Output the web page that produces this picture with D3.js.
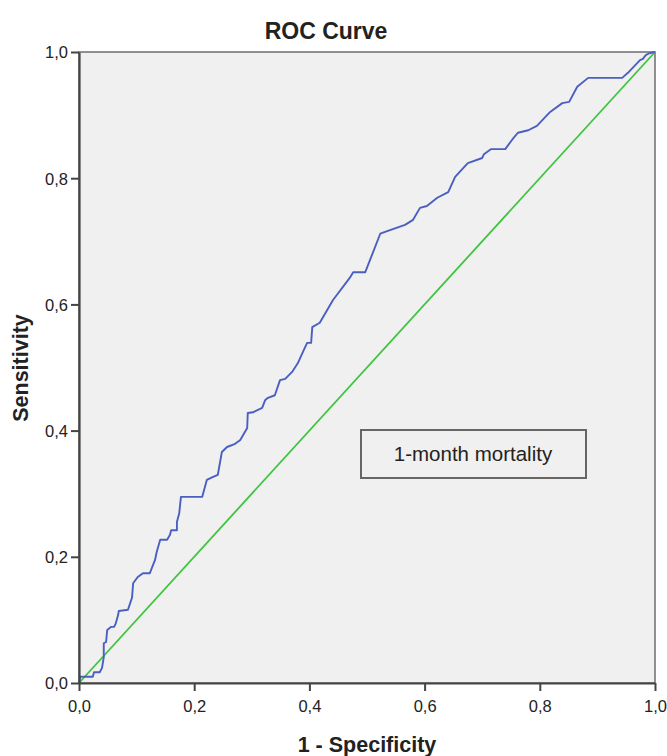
<!DOCTYPE html>
<html><head><meta charset="utf-8">
<script src="https://cdn.jsdelivr.net/npm/d3@7"></script>
<style>
html,body{margin:0;padding:0;background:#fff;}
text{font-family:"Liberation Sans",Arial,sans-serif;fill:#222;}
</style></head>
<body>
<svg id="c" width="667" height="756"></svg>
<script>
const fpr = [0,0.002,0.024,0.026,0.036,0.040,0.043,0.043,0.047,0.049,0.056,0.061,0.064,0.068,0.069,0.085,0.089,0.092,0.094,0.102,0.111,0.123,0.132,0.135,0.141,0.153,0.158,0.160,0.170,0.170,0.174,0.177,0.214,0.222,0.231,0.241,0.248,0.257,0.271,0.280,0.292,0.293,0.302,0.318,0.323,0.328,0.340,0.349,0.358,0.370,0.380,0.389,0.396,0.403,0.405,0.418,0.441,0.470,0.476,0.497,0.523,0.535,0.566,0.580,0.592,0.604,0.622,0.641,0.653,0.675,0.700,0.703,0.715,0.740,0.752,0.762,0.780,0.795,0.818,0.839,0.851,0.865,0.884,0.943,0.953,0.974,0.979,0.984,0.990,1];
const tpr = [0,0.010,0.010,0.017,0.017,0.024,0.041,0.063,0.065,0.084,0.089,0.089,0.095,0.108,0.114,0.116,0.127,0.135,0.158,0.168,0.174,0.174,0.195,0.208,0.227,0.227,0.235,0.242,0.242,0.255,0.269,0.295,0.295,0.322,0.326,0.330,0.366,0.374,0.379,0.385,0.404,0.428,0.429,0.436,0.448,0.452,0.456,0.480,0.482,0.493,0.507,0.525,0.539,0.539,0.564,0.571,0.607,0.642,0.651,0.651,0.712,0.716,0.726,0.734,0.753,0.756,0.769,0.778,0.802,0.824,0.832,0.838,0.846,0.846,0.861,0.872,0.876,0.883,0.905,0.919,0.921,0.945,0.959,0.959,0.967,0.987,0.989,0.995,0.998,1];
const refX = [0,1];
const refY = [0,1];
const ticks = [0,0.2,0.4,0.6,0.8,1.0];
const title = "ROC Curve";
const xTitle = "1 - Specificity";
const yTitle = "Sensitivity";
const legendLabel = "1-month mortality";

const svg = d3.select("#c");
const L=79,R=655,T=52,B=683;
const x = d3.scaleLinear().domain([0,1]).range([L,R]);
const y = d3.scaleLinear().domain([0,1]).range([B,T]);
const fmt = d => d3.format(".1f")(d).replace(".",",");

svg.append("rect").attr("x",L).attr("y",T).attr("width",R-L).attr("height",B-T)
  .attr("fill","#f0f0f0").attr("stroke","#6e6e6e").attr("stroke-width",1.5);

const line = d3.line().x(d=>x(d[0])).y(d=>y(d[1]));
svg.append("path").datum(refX.map((v,i)=>[v,refY[i]])).attr("d",line)
  .attr("fill","none").attr("stroke","#3ec43e").attr("stroke-width",1.8);
svg.append("path").datum(fpr.map((v,i)=>[v,tpr[i]])).attr("d",line)
  .attr("fill","none").attr("stroke","#4a5fc0").attr("stroke-width",1.9).attr("stroke-linejoin","round");

const xa = svg.append("g").attr("transform",`translate(0,${B})`)
  .call(d3.axisBottom(x).tickValues(ticks).tickFormat(fmt).tickSize(8).tickPadding(3).tickSizeOuter(0));
const ya = svg.append("g").attr("transform",`translate(${L},0)`)
  .call(d3.axisLeft(y).tickValues(ticks).tickFormat(fmt).tickSize(8).tickPadding(3).tickSizeOuter(0));
[xa,ya].forEach(g=>{
  g.select(".domain").attr("stroke","#444").attr("stroke-width",2.2);
  g.selectAll(".tick line").attr("stroke","#444").attr("stroke-width",2);
  g.selectAll(".tick text").attr("font-size",16.5).attr("font-family","Liberation Sans, Arial, sans-serif").attr("fill","#333");
});
xa.selectAll(".tick text").attr("y",29).attr("dy",0);
ya.selectAll(".tick text").attr("dy","0.36em");

svg.append("text").attr("x",326).attr("y",39).attr("text-anchor","middle")
  .attr("font-size",23).attr("font-weight","bold").text(title);
svg.append("text").attr("x",367).attr("y",752).attr("text-anchor","middle")
  .attr("font-size",21.5).attr("font-weight","bold").text(xTitle);
svg.append("text").attr("transform","translate(28,368) rotate(-90)").attr("text-anchor","middle")
  .attr("font-size",21.5).attr("font-weight","bold").text(yTitle);

svg.append("rect").attr("x",361).attr("y",430).attr("width",225).attr("height",48)
  .attr("fill","#f0f0f0").attr("stroke","#666").attr("stroke-width",2);
svg.append("text").attr("x",473).attr("y",461).attr("text-anchor","middle")
  .attr("font-size",20.5).attr("fill","#333").text(legendLabel);
</script>
</body></html>
